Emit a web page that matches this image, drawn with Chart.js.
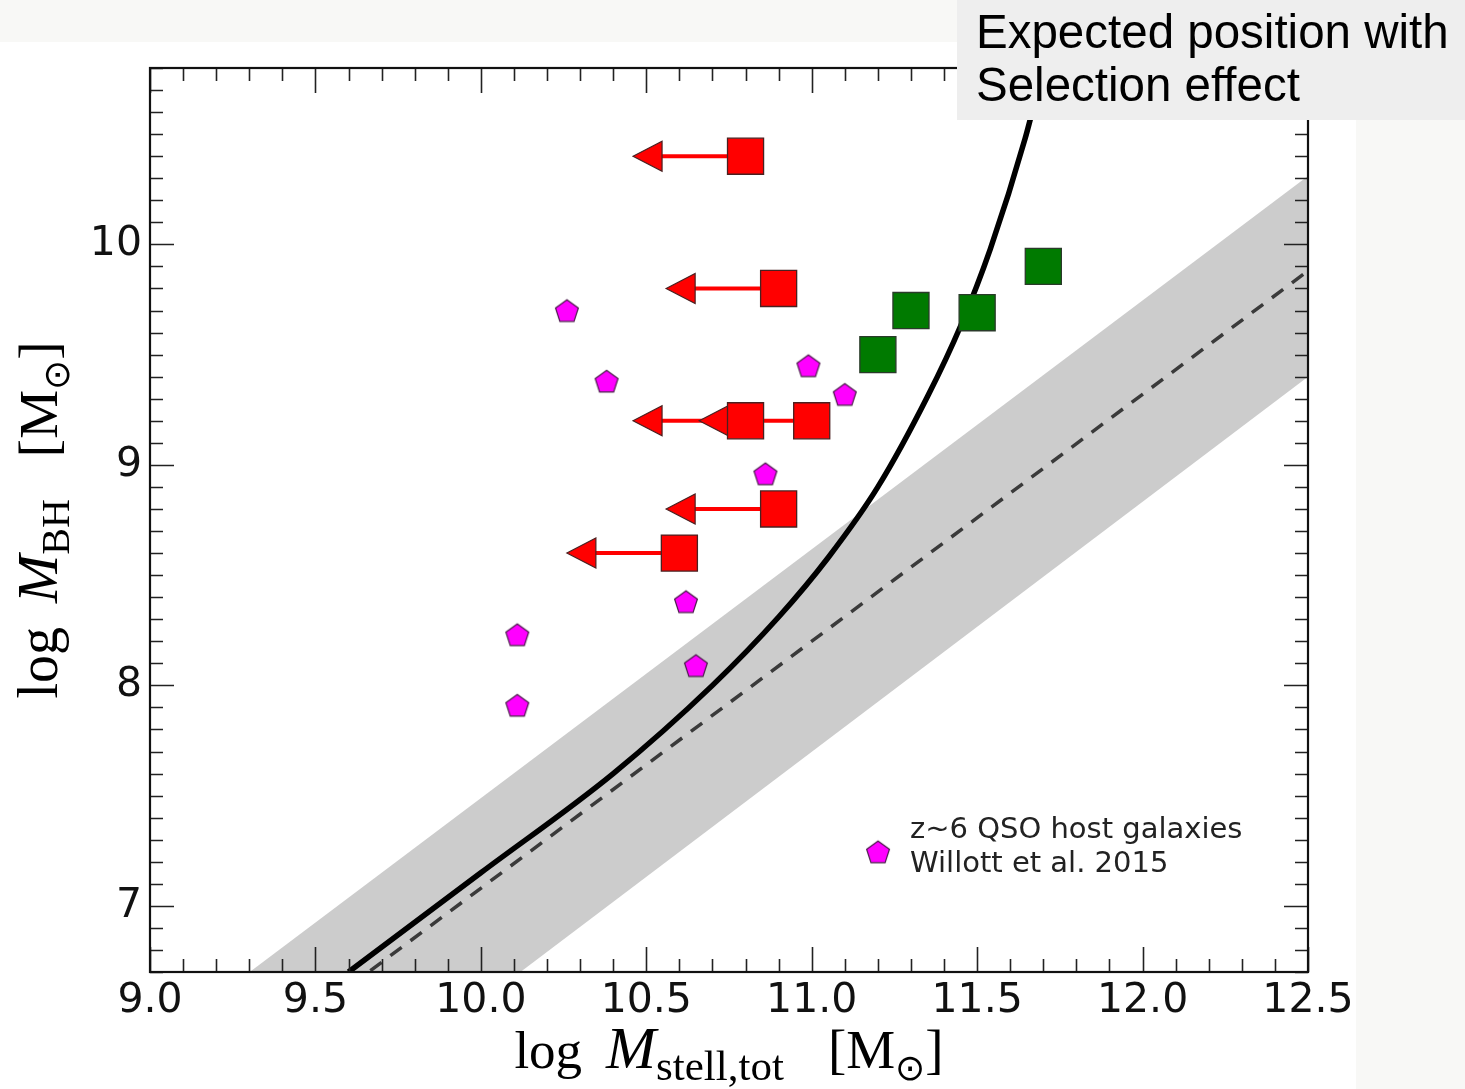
<!DOCTYPE html>
<html>
<head>
<meta charset="utf-8">
<script src="https://cdn.jsdelivr.net/npm/chart.js@4.4.0/dist/chart.umd.min.js"></script>
<style>
  html, body { margin: 0; padding: 0; background: #fff; }
  canvas { display: block; }
</style>
</head>
<body>
<canvas id="chart" width="1465" height="1089"></canvas>
<script>
// z~6 quasars with stellar mass upper limits (arrows point left)
const redX = [10.80, 10.90, 10.80, 11.00, 10.90, 10.60];
const redY = [10.40, 9.80, 9.20, 9.20, 8.80, 8.60];
const arrowLen = 0.34;

// detected hosts
const greenX = [11.20, 11.30, 11.50, 11.70];
const greenY = [9.50, 9.70, 9.69, 9.90];

// Willott et al. 2015
const magX = [10.26, 10.38, 10.99, 11.10, 10.86, 10.62, 10.11, 10.65, 10.11];
const magY = [9.70, 9.38, 9.45, 9.32, 8.96, 8.38, 8.23, 8.09, 7.91];

// local relation and its scatter band
const relX = [9.0, 12.5];
const relY = [5.96, 9.88];
const bandUpper = [6.36, 10.31];
const bandLower = [5.43, 9.40];

// expected position with selection effect
const curveX = [9.60, 10.00, 10.40, 10.70, 10.90, 11.05, 11.20, 11.35, 11.45, 11.54, 11.645, 11.70];
const curveY = [6.70, 7.15, 7.60, 8.00, 8.31, 8.58, 8.90, 9.31, 9.63, 9.98, 10.48, 10.80];

const xTicks = [9.0, 9.5, 10.0, 10.5, 11.0, 11.5, 12.0, 12.5];
const yTicks = [7, 8, 9, 10];

const pts = (xs, ys) => xs.map((x, i) => ({ x: x, y: ys[i] }));

// pentagon marker as a small canvas
function makePentagon(r) {
  const size = Math.ceil(r * 2 + 4);
  const c = document.createElement("canvas");
  c.width = size;
  c.height = size;
  const g = c.getContext("2d");
  const cx = size / 2, cy = size / 2 + r * 0.095;
  g.beginPath();
  for (let k = 0; k < 5; k++) {
    const a = -Math.PI / 2 + k * 2 * Math.PI / 5;
    const px = cx + r * Math.cos(a), py = cy + r * Math.sin(a);
    if (k === 0) g.moveTo(px, py); else g.lineTo(px, py);
  }
  g.closePath();
  g.fillStyle = "#ff00ff";
  g.fill();
  g.lineWidth = 1.2;
  g.strokeStyle = "#4a1a4a";
  g.stroke();
  return c;
}
const pentagon = makePentagon(12);

// arrows for the upper limits, drawn under the squares
const arrowPlugin = {
  id: "arrows",
  beforeDatasetsDraw(chart) {
    const ctx = chart.ctx;
    const xs = chart.scales.x, ys = chart.scales.y;
    ctx.save();
    redX.forEach((x, i) => {
      const px = xs.getPixelForValue(x);
      const tip = xs.getPixelForValue(x - arrowLen);
      const py = ys.getPixelForValue(redY[i]);
      const head = 29;
      ctx.strokeStyle = "#ff0000";
      ctx.lineWidth = 4;
      ctx.beginPath();
      ctx.moveTo(px, py);
      ctx.lineTo(tip + head - 1, py);
      ctx.stroke();
      ctx.beginPath();
      ctx.moveTo(tip, py);
      ctx.lineTo(tip + head, py - 15);
      ctx.lineTo(tip + head, py + 15);
      ctx.closePath();
      ctx.fillStyle = "#ff0000";
      ctx.fill();
      ctx.lineWidth = 1.2;
      ctx.strokeStyle = "#4a2020";
      ctx.stroke();
    });
    ctx.restore();
  }
};

// inward ticks on all four sides plus the frame
const frameTicks = {
  id: "frameTicks",
  afterDatasetsDraw(chart) {
    const ctx = chart.ctx;
    const a = chart.chartArea;
    const xs = chart.scales.x, ys = chart.scales.y;
    ctx.save();
    ctx.strokeStyle = "#222";
    ctx.lineWidth = 1.6;
    ctx.beginPath();
    for (let v = 9.0; v <= 12.5001; v += 0.1) {
      const p = Math.round(xs.getPixelForValue(v)) + 0.5;
      const major = Math.abs(v * 2 - Math.round(v * 2)) < 1e-6;
      const len = major ? 25 : 13;
      ctx.moveTo(p, a.bottom); ctx.lineTo(p, a.bottom - len);
      ctx.moveTo(p, a.top); ctx.lineTo(p, a.top + len);
    }
    for (let v = 6.7; v <= 10.8001; v += 0.1) {
      const p = Math.round(ys.getPixelForValue(v)) + 0.5;
      const major = Math.abs(v - Math.round(v)) < 1e-6;
      const len = major ? 24 : 13;
      ctx.moveTo(a.left, p); ctx.lineTo(a.left + len, p);
      ctx.moveTo(a.right, p); ctx.lineTo(a.right - len, p);
    }
    ctx.stroke();
    ctx.lineWidth = 2.2;
    ctx.strokeStyle = "#111";
    ctx.strokeRect(a.left, a.top, a.right - a.left, a.bottom - a.top);
    ctx.restore();
  }
};

// draw a run of text pieces with different fonts and offsets
function drawParts(ctx, parts, cx, baseY) {
  let total = 0;
  parts.forEach(p => {
    ctx.font = p.font;
    p.w = ctx.measureText(p.t).width + (p.gap || 0);
    total += p.w;
  });
  let x = cx - total / 2;
  parts.forEach(p => {
    ctx.font = p.font;
    ctx.fillText(p.t, x, baseY + (p.dy || 0));
    x += p.w;
  });
}

const serif = "'Liberation Serif', 'DejaVu Serif', serif";
const decor = {
  id: "decor",
  beforeDraw(chart) {
    const ctx = chart.ctx;
    ctx.save();
    ctx.fillStyle = "#f8f8f6";
    ctx.fillRect(0, 0, chart.width, 42);
    ctx.fillRect(1356, 120, chart.width - 1356, chart.height - 120);
    ctx.restore();
  },
  afterDraw(chart) {
    const ctx = chart.ctx;
    const a = chart.chartArea;
    ctx.save();
    ctx.fillStyle = "#000";
    ctx.textAlign = "left";
    ctx.textBaseline = "alphabetic";

    // x axis title
    drawParts(ctx, [
      { t: "log", font: "53px " + serif, gap: 24 },
      { t: "M", font: "italic 60px " + serif },
      { t: "stell,tot", font: "43px " + serif, dy: 12, gap: 44 },
      { t: "[M", font: "55px " + serif },
      { t: "\u2299", font: "36px 'DejaVu Sans', sans-serif", dy: 12 },
      { t: "]", font: "55px " + serif }
    ], (a.left + a.right) / 2, 1068);

    // y axis title
    ctx.save();
    ctx.translate(57, (a.top + a.bottom) / 2);
    ctx.rotate(-Math.PI / 2);
    drawParts(ctx, [
      { t: "log", font: "56px " + serif, gap: 24 },
      { t: "M", font: "italic 58px " + serif },
      { t: "BH", font: "40px " + serif, dy: 12, gap: 42 },
      { t: "[M", font: "55px " + serif },
      { t: "\u2299", font: "36px 'DejaVu Sans', sans-serif", dy: 12 },
      { t: "]", font: "55px " + serif }
    ], 0, 0);
    ctx.restore();

    // legend
    const lx = a.left + (a.right - a.left) * 0.6287;
    const ly = a.top + (a.bottom - a.top) * 0.867;
    ctx.drawImage(pentagon, lx - pentagon.width / 2, ly - pentagon.height / 2);
    ctx.fillStyle = "#222";
    ctx.font = "29px 'DejaVu Sans', sans-serif";
    ctx.fillText("z~6 QSO host galaxies", 910, 838);
    ctx.fillText("Willott et al. 2015", 910, 872);

    // slide annotation box
    ctx.fillStyle = "#eeeeee";
    ctx.fillRect(957, 0, chart.width - 957, 120);
    ctx.fillStyle = "#000";
    ctx.font = "47.5px 'Liberation Sans', Arial, sans-serif";
    ctx.fillText("Expected position with", 976, 48);
    ctx.fillText("Selection effect", 976, 101);
    ctx.restore();
  }
};

new Chart(document.getElementById("chart").getContext("2d"), {
  type: "scatter",
  data: {
    datasets: [
      {
        label: "upper limits",
        data: pts(redX, redY),
        pointStyle: "rect",
        pointRadius: 25.5,
        backgroundColor: "#ff0000",
        borderColor: "#4a2020",
        borderWidth: 1.3,
        order: 1
      },
      {
        label: "detections",
        data: pts(greenX, greenY),
        pointStyle: "rect",
        pointRadius: 25.5,
        backgroundColor: "#007a00",
        borderColor: "#2a3a2a",
        borderWidth: 1.3,
        order: 1
      },
      {
        label: "Willott et al. 2015",
        data: pts(magX, magY),
        pointStyle: pentagon,
        order: 2
      },
      {
        label: "selection effect",
        data: pts(curveX, curveY),
        showLine: true,
        borderColor: "#000",
        borderWidth: 5.5,
        pointRadius: 0,
        cubicInterpolationMode: "monotone",
        order: 3
      },
      {
        label: "local relation",
        data: pts(relX, relY),
        showLine: true,
        borderColor: "#3a3a3a",
        borderWidth: 3.5,
        borderDash: [14, 11],
        pointRadius: 0,
        order: 4
      },
      {
        label: "band upper",
        data: pts(relX, bandUpper),
        showLine: true,
        borderWidth: 0,
        borderColor: "rgba(0,0,0,0)",
        backgroundColor: "#cccccc",
        pointRadius: 0,
        fill: "+1",
        order: 5
      },
      {
        label: "band lower",
        data: pts(relX, bandLower),
        showLine: true,
        borderWidth: 0,
        borderColor: "rgba(0,0,0,0)",
        pointRadius: 0,
        order: 5
      }
    ]
  },
  options: {
    responsive: false,
    animation: false,
    devicePixelRatio: 1,
    layout: { padding: { left: 0, right: 157, top: 68, bottom: 0 } },
    plugins: {
      legend: { display: false },
      tooltip: { enabled: false },
      filler: { propagate: false }
    },
    scales: {
      x: {
        type: "linear",
        min: 9.0,
        max: 12.5,
        grid: { display: false },
        border: { display: false },
        afterBuildTicks: s => { s.ticks = xTicks.map(v => ({ value: v })); },
        afterFit: s => { s.height = 117; },
        ticks: {
          padding: -3,
          color: "#111",
          font: { family: "'DejaVu Sans', sans-serif", size: 41 },
          callback: v => Number(v).toFixed(1),
          maxRotation: 0,
          autoSkip: false
        }
      },
      y: {
        type: "linear",
        min: 6.7,
        max: 10.8,
        grid: { display: false },
        border: { display: false },
        afterBuildTicks: s => { s.ticks = yTicks.map(v => ({ value: v })); },
        afterFit: s => { s.width = 150; },
        ticks: {
          padding: 0,
          color: "#111",
          font: { family: "'DejaVu Sans', sans-serif", size: 41 },
          callback: v => String(v),
          autoSkip: false
        }
      }
    }
  },
  plugins: [arrowPlugin, frameTicks, decor]
});
</script>
</body>
</html>
